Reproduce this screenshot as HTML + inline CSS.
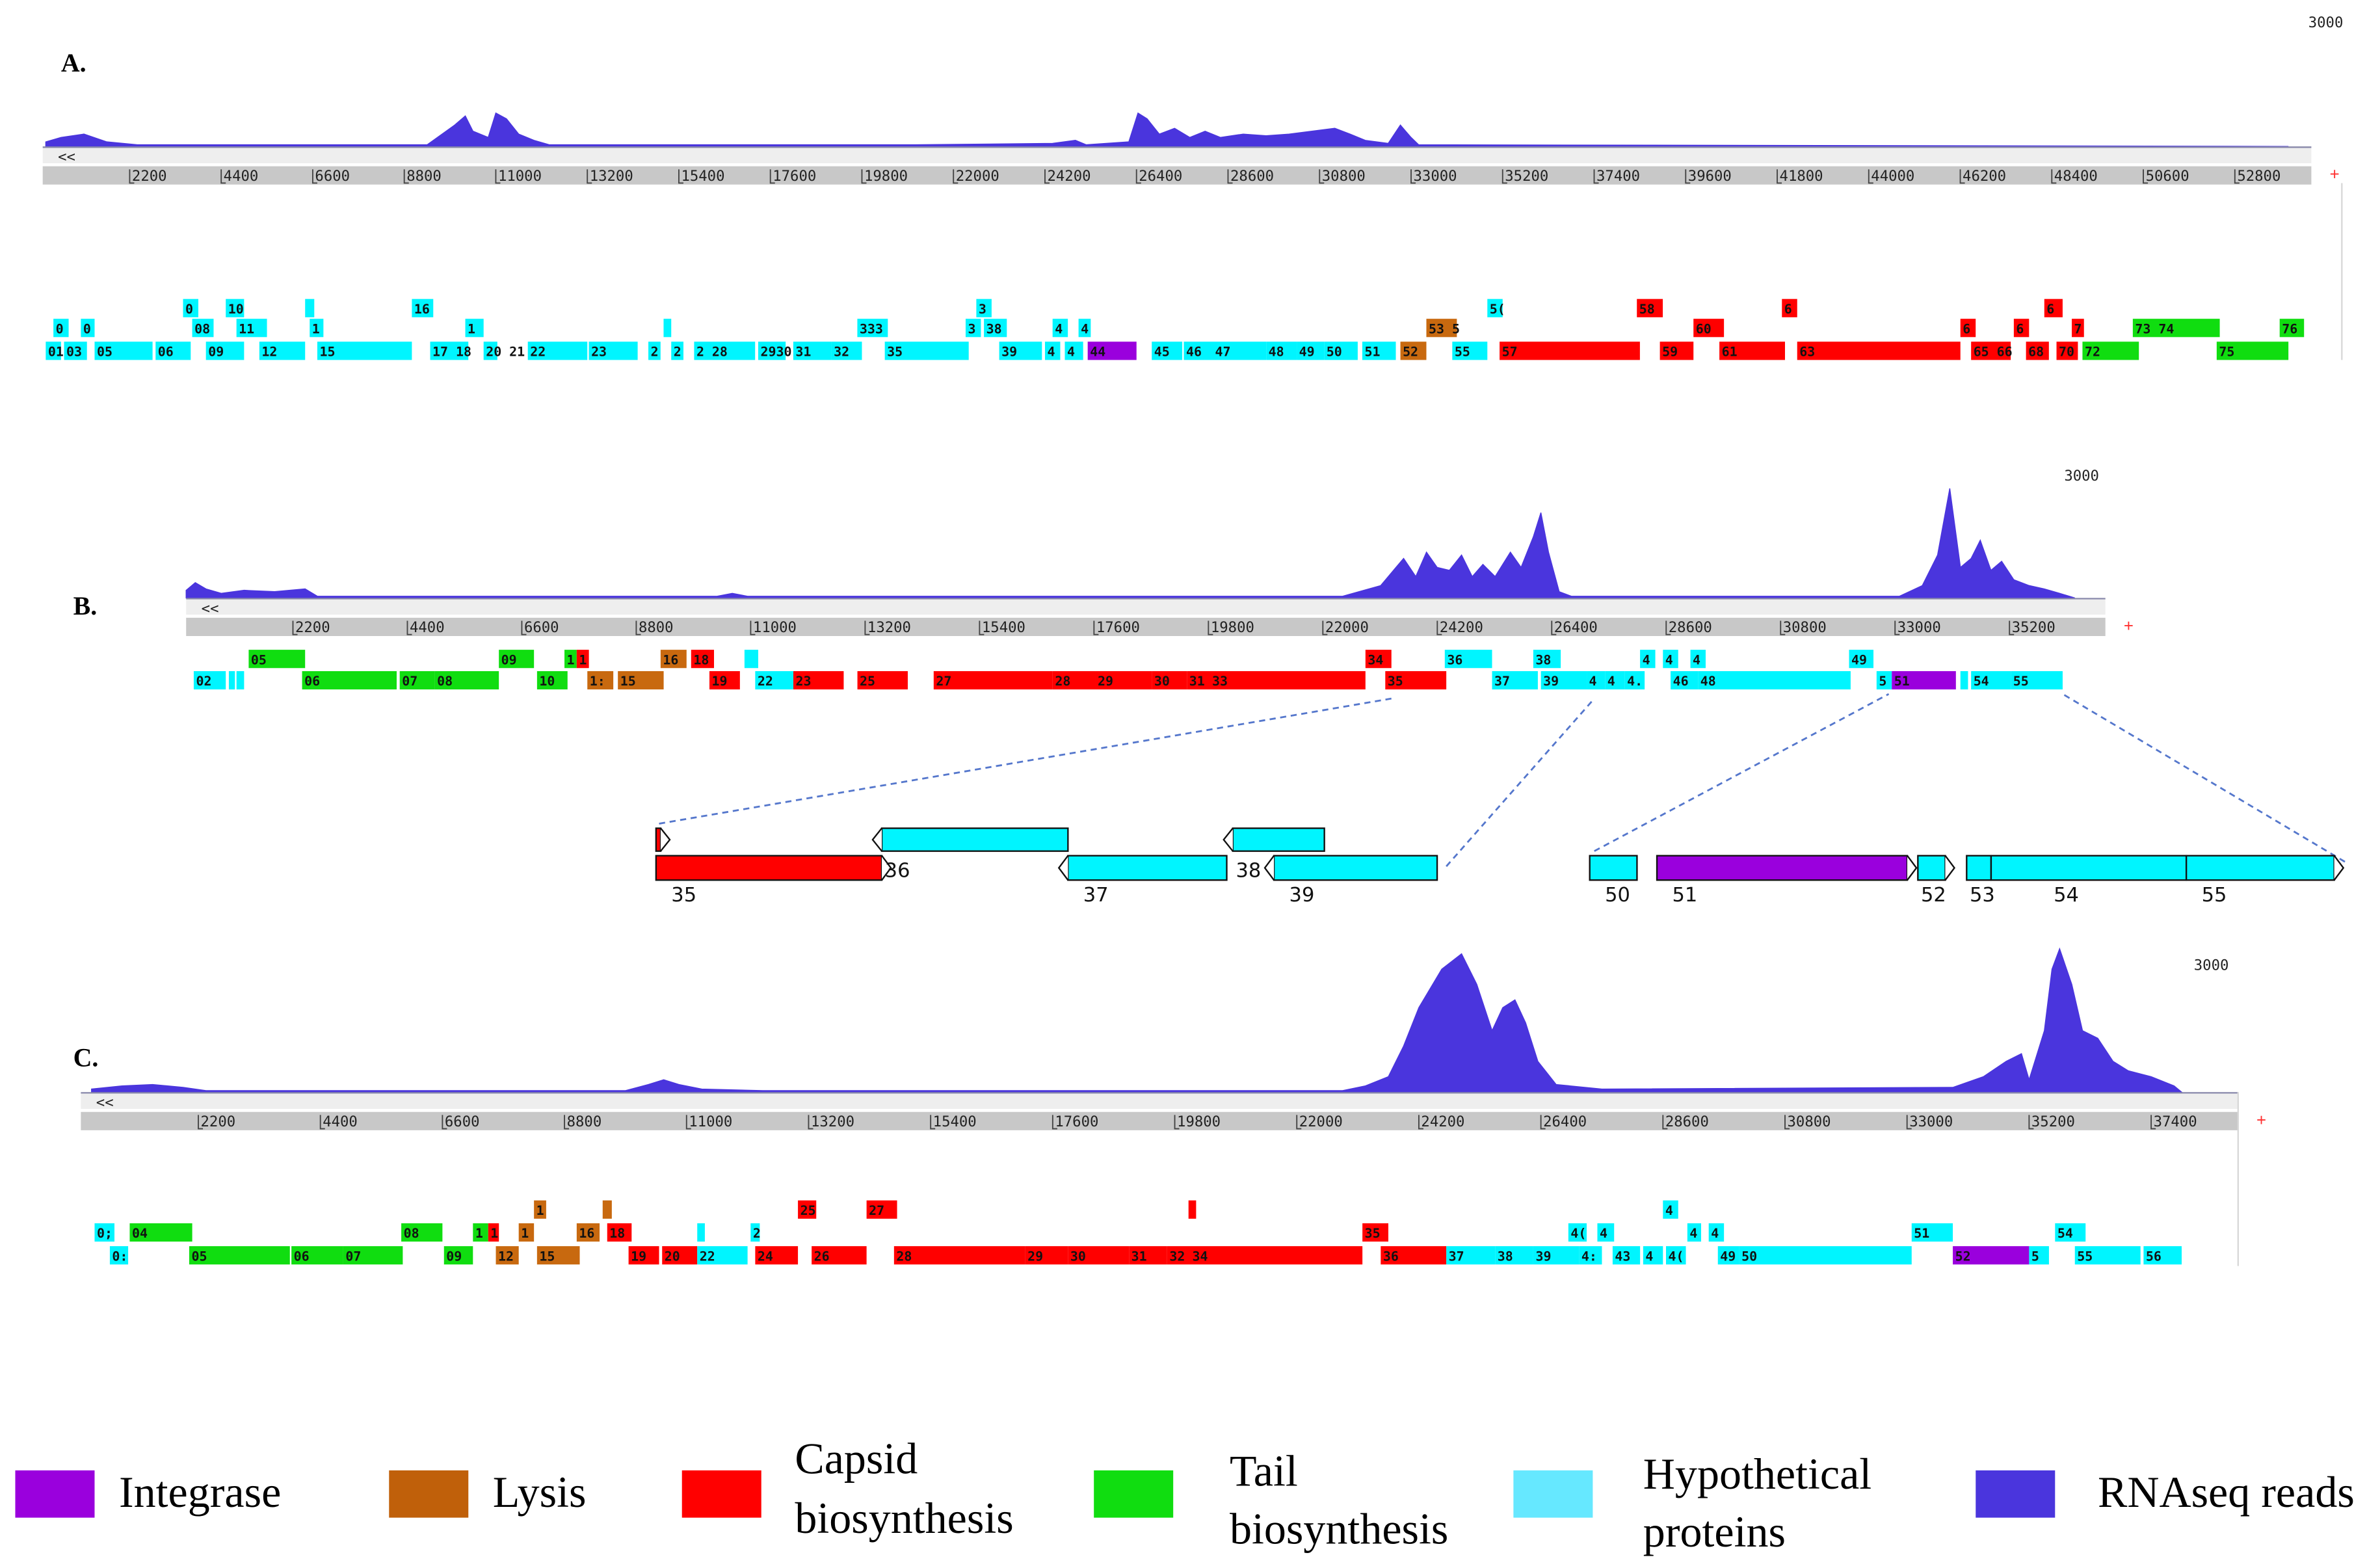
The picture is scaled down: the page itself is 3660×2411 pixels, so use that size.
<!DOCTYPE html>
<html><head><meta charset="utf-8"><title>Phage genome RNAseq coverage</title>
<style>
html,body{margin:0;padding:0;background:#fff;}
svg{display:block;}
.gl{font-family:"DejaVu Sans Mono","Liberation Mono",monospace;font-size:8.5px;font-weight:bold;fill:#111;}
.rl{font-family:"DejaVu Sans Mono","Liberation Mono",monospace;font-size:9.5px;fill:#222;}
.pl{font-family:"Liberation Serif",serif;font-size:17px;font-weight:bold;fill:#000;}
.lg{font-family:"Liberation Serif",serif;font-size:29px;fill:#000;}
.zl{font-family:"DejaVu Sans","Liberation Sans",sans-serif;font-size:13px;fill:#111;}
</style></head>
<body>
<svg id="fig" width="3660" height="2411" viewBox="0 0 1560 1028" preserveAspectRatio="none" xmlns="http://www.w3.org/2000/svg">
<rect x="0" y="0" width="1560" height="1028" fill="#fff"/>
</svg>
<script>
// ---------- DATA ----------
const aTicks=[2200,4400,6600,8800,11000,13200,15400,17600,19800,22000,24200,26400,28600,30800,33000,35200,37400,39600,41800,44000,46200,48400,50600,52800];
const bTicks=[2200,4400,6600,8800,11000,13200,15400,17600,19800,22000,24200,26400,28600,30800,33000,35200];
const cTicks=[2200,4400,6600,8800,11000,13200,15400,17600,19800,22000,24200,26400,28600,30800,33000,35200,37400];

const aCovPos=[183,550,1100,1650,2383,9350,10010,10267,10450,10817,11000,11257,11550,11917,12283,21083,24383,24933,25190,26217,26437,26657,26950,27317,27683,28050,28417,28967,29517,30067,30617,31167,31533,31900,32450,32743,33000,33183,54087];
const aCovReads=[110,220,300,110,40,40,520,740,370,220,810,670,300,150,40,40,75,150,40,110,810,670,300,440,220,370,220,300,260,300,370,440,300,150,75,520,220,40,0];

const bCovPos=[147,323,528,821,1261,1848,2434,2669,5367,10353,10647,10940,22379,23112,23405,23552,23786,23992,24197,24432,24667,24872,25077,25312,25605,25810,26045,26192,26339,26544,26779,33084,33524,33817,34051,34257,34462,34638,34843,35049,35284,35577,35870,36163,36457];
const bCovReads=[185,370,220,110,185,150,220,40,40,40,110,40,40,300,740,960,520,1110,740,670,1040,520,815,520,1110,740,1480,2070,1110,150,40,40,300,1040,2660,740,960,1400,670,890,440,300,220,110,0];

const cCovPos=[275,825,1375,1925,2338,9900,10313,10588,10863,11275,12375,22825,23238,23650,23925,24200,24613,24970,25245,25520,25713,25933,26125,26345,26675,27500,33825,34375,34788,35063,35200,35475,35613,35750,35970,36163,36438,36713,36988,37400,37813,37950];
const cCovReads=[70,145,180,110,36,36,180,290,180,70,36,36,145,360,1080,1980,2880,3240,2520,1440,1980,2160,1620,720,180,70,110,360,720,900,290,1440,2880,3380,2520,1440,1260,720,500,360,145,0];

const aRow0=[[3483,3850,'h','0'],[4510,4950,'h','10'],[6417,6637,'h',''],[8983,9497,'h','16'],[22550,22917,'h','3'],[34833,35200,'h','5('],[38427,39050,'c','58'],[41913,42280,'c','6'],[48220,48660,'c','6']];
const aRow1=[[367,733,'h','0'],[1027,1357,'h','0'],[3703,4217,'h','08'],[4767,5500,'h','11'],[6527,6857,'h','1'],[10267,10707,'h','1'],[15033,15217,'h',''],[19690,20423,'h','333'],[22293,22660,'h','3'],[22733,23283,'h','38'],[24383,24750,'h','4'],[25007,25300,'h','4'],[33367,34100,'l','53 5'],[39787,40520,'c','60'],[46203,46570,'c','6'],[47487,47853,'c','6'],[48880,49173,'c','7'],[50347,52437,'t','73  74'],[53877,54463,'t','76']];
const aRow2=[[183,550,'h','01'],[623,1173,'h','03'],[1357,2750,'h','05'],[2823,3667,'h','06'],[4033,4950,'h','09'],[5317,6417,'h','12'],[6710,8983,'h','15'],[9423,10340,'h','17 18'],[10707,11037,'h','20 21'],[11770,13200,'h','22'],[13237,14410,'h','23'],[14667,14960,'h','2'],[15217,15510,'h','2'],[15767,17233,'h','2 28'],[17307,17967,'h','2930'],[18150,19067,'h','31'],[19067,19800,'h','32'],[20350,22367,'h','35'],[23100,24127,'h','39'],[24200,24567,'h','4'],[24677,25117,'h','4'],[25227,26400,'i','44'],[26767,27500,'h','45'],[27537,28233,'h','46'],[28233,29517,'h','47'],[29517,30250,'h','48'],[30250,30910,'h','49'],[30910,31717,'h','50'],[31827,32633,'h','51'],[32743,33367,'l','52'],[33990,34833,'h','55'],[35127,38500,'c','57'],[38980,39787,'c','59'],[40410,41987,'c','61'],[42280,46203,'c','63'],[46460,47413,'c','65 66'],[47780,48330,'c','68'],[48513,49027,'c','70'],[49137,50493,'t','72'],[52363,54087,'t','75']];

const bRow0=[[1349,2434,'t','05'],[6159,6834,'t','09'],[7420,7655,'t','1'],[7655,7890,'c','1'],[9268,9767,'l','16'],[9855,10295,'c','18'],[10881,11145,'h',''],[22819,23318,'c','34'],[24344,25253,'h','36'],[26045,26573,'h','38'],[28098,28391,'h','4'],[28538,28831,'h','4'],[29066,29359,'h','4'],[32116,32585,'h','49']];
const bRow1=[[293,909,'h','02'],[968,1085,'h',''],[1115,1261,'h',''],[2376,4194,'t','06'],[4253,4927,'t','07'],[4927,6159,'t','08'],[6893,7479,'t','10'],[7860,8359,'l','1:'],[8447,9327,'l','15'],[10207,10793,'c','19'],[11087,11820,'h','22'],[11820,12788,'c','23'],[13052,14020,'c','25'],[14518,16806,'c','27'],[16806,17627,'c','28'],[17627,18713,'c','29'],[18713,19387,'c','30'],[19387,19827,'c','31'],[19827,22819,'c','33'],[23200,24373,'c','35'],[25253,26133,'h','37'],[26192,27072,'h','39'],[27072,27424,'h','4'],[27424,27805,'h','4'],[27805,28186,'h','4.'],[28685,29213,'h','46'],[29213,32146,'h','48'],[32645,32938,'h','5'],[32938,34170,'i','51'],[34257,34403,'h',''],[34462,35225,'h','54'],[35225,36222,'h','55']];

const cRow0=[[8250,8470,'l','1'],[9488,9653,'l',''],[13008,13338,'c','25'],[14245,14795,'c','27'],[20048,20185,'c',''],[28600,28875,'h','4']];
const cRow1=[[330,688,'h','0;'],[963,2090,'t','04'],[5858,6600,'t','08'],[7150,7425,'t','1'],[7425,7618,'c','1'],[7975,8250,'l','1'],[9020,9433,'l','16'],[9570,10010,'c','18'],[11193,11330,'h',''],[12155,12320,'h','2'],[23183,23650,'c','35'],[26895,27225,'h','4('],[27418,27720,'h','4'],[29040,29288,'h','4'],[29425,29700,'h','4'],[33083,33825,'h','51'],[35668,36218,'h','54']];
const cRow2=[[605,935,'h','0:'],[2035,3850,'t','05'],[3878,4813,'t','06'],[4813,5885,'t','07'],[6628,7150,'t','09'],[7563,7975,'l','12'],[8305,9075,'l','15'],[9955,10505,'c','19'],[10560,11193,'c','20'],[11193,12100,'h','22'],[12238,13008,'c','24'],[13255,14245,'c','26'],[14740,17105,'c','28'],[17105,17875,'c','29'],[17875,18975,'c','30'],[18975,19663,'c','31'],[19663,20075,'c','32'],[20075,23183,'c','34'],[23513,24695,'c','36'],[24695,25575,'h','37'],[25575,26263,'h','38'],[26263,27088,'h','39'],[27088,27500,'h','4:'],[27693,28188,'h','43'],[28243,28600,'h','4'],[28655,29013,'h','4('],[29590,29975,'h','49'],[29975,33083,'h','50'],[33825,35200,'i','52'],[35200,35558,'h','5'],[36025,37208,'h','55'],[37263,37950,'h','56']];

// zoomed detail: [start, end, type, label, row(0 top/1 bottom), strand(1 fwd,-1 rev)]
const zoomLeft=[[23200,23223,'c','',0,1],[23200,24319,'c','35',1,1],[24319,25242,'h','36',0,-1],[25242,26029,'h','37',1,-1],[26059,26513,'h','38',0,-1],[26263,27072,'h','39',1,-1]];
const zoomRight=[[32145,32404,'h','50',1,0],[32513,33884,'i','51',1,1],[33942,34092,'h','52',1,1],[34209,34343,'h','53',1,1],[34343,35412,'h','54',1,1],[35412,36222,'h','55',1,1]];

const legendLabels=[['Integrase'],['Lysis'],['Capsid','biosynthesis'],['Tail','biosynthesis'],['Hypothetical','proteins'],['RNAseq reads']];

// ---------- RENDER ----------
const NS='http://www.w3.org/2000/svg';
const svg=document.getElementById('fig');
const COL={h:'#00f5ff',c:'#ff0000',t:'#10dd10',l:'#c8690f',i:'#9a00dd'};
const COV='#4a35dd';
function mk(tag,attrs,parent){const e=document.createElementNS(NS,tag);for(const k in attrs)e.setAttribute(k,attrs[k]);(parent||svg).appendChild(e);return e;}

function drawPanel(p,ticks,covPos,covReads,rows,letter){
  const g=mk('g',{});
  
  
  const x=bp=>p.x0+bp*p.k;
  const y=r=>p.base-r*p.ry;
  let d='M'+x(covPos[0])+','+p.base;
  for(let i=0;i<covPos.length;i++){d+=' L'+x(covPos[i]).toFixed(1)+','+Math.max(y(covReads[i]),p.base-p.maxH).toFixed(1);}
  d+=' L'+x(covPos[covPos.length-1])+','+p.base+' Z';
  const cov=mk('path',{d:d,fill:COV,stroke:COV,'stroke-width':0.6},g);
  
  
  mk('line',{x1:p.rx0,x2:p.rx1,y1:p.base+0.5,y2:p.base+0.5,stroke:'#8888aa','stroke-width':1},g);
  const sl=mk('text',{x:p.sx,y:p.sy,class:'rl','font-size':9},g);sl.textContent='3000';
  
  
  mk('rect',{x:p.rx0,y:p.base+1,width:p.rx1-p.rx0,height:10,fill:'#eeeeee'},g);
  const nav=mk('text',{x:p.rx0+10,y:p.base+10,class:'rl','font-size':9},g);nav.textContent='<<';
  
  
  const ruler=mk('rect',{x:p.rx0,y:p.base+13,width:p.rx1-p.rx0,height:12,fill:'#c8c8c8'},g);
  
  
  ticks.forEach(t=>{
    const tx=x(t);
    mk('path',{d:`M${tx},${p.base+15}V${p.base+24}H${tx+3}`,stroke:'#444',fill:'none','stroke-width':0.8},g);
    const tl=mk('text',{x:tx+1.5,y:p.base+22.5,class:'rl'},g);tl.textContent=t;
    
    
  });
  const pl=mk('text',{x:p.rx1+12,y:p.base+22,fill:'#ff3030','font-size':11,'font-family':'Liberation Sans'},g);pl.textContent='+';
  
  
  if(p.vline) mk('line',{x1:p.vline[0],x2:p.vline[0],y1:p.vline[1],y2:p.vline[2],stroke:'#d8d8d8','stroke-width':1},g);
  rows.forEach((row,ri)=>{
    row.forEach(gn=>{
      const gx=x(gn[0]),gw=Math.max(x(gn[1])-gx,1.5);
      const r=mk('rect',{x:gx,y:p.rowY[ri],width:gw,height:p.rowH,fill:COL[gn[2]]},g);
      
      
      if(gn[3]){const t=mk('text',{x:gx+1.5,y:p.rowY[ri]+p.rowH-2.5,class:'gl'},g);t.textContent=gn[3];}
    });
  });
  const lbl=mk('text',{x:p.lx,y:p.ly,class:'pl'},g);lbl.textContent=letter+'.';
  
  
}

drawPanel({x0:25,k:1/36.67,base:96,ry:81/3000,maxH:90,rx0:28,rx1:1515,sx:1513,sy:18,rowY:[196,209,224],rowH:12,lx:40,ly:47,vline:[1535,120,236]},aTicks,aCovPos,aCovReads,[aRow0,aRow1,aRow2],'A');
drawPanel({x0:117,k:1/29.33,base:392,ry:81/3000,maxH:90,rx0:122,rx1:1380,sx:1353,sy:315,rowY:[426,440],rowH:12,lx:48,ly:403,vline:null},bTicks,bCovPos,bCovReads,[bRow0,bRow1],'B');
drawPanel({x0:50,k:1/27.5,base:716,ry:84/3000,maxH:94,rx0:53,rx1:1467,sx:1438,sy:636,rowY:[787,802,817],rowH:12,lx:48,ly:699,vline:[1467,716,830]},cTicks,cCovPos,cCovReads,[cRow0,cRow1,cRow2],'C');

// zoom detail
(function(){
  const g=mk('g',{});
  
  
  const lines=[[432,540,912,458],[948,568,1045,458],[1045,558,1238,455],[1537,565,1352,455]];
  lines.forEach(l=>{const e=mk('line',{x1:l[0],y1:l[1],x2:l[2],y2:l[3],stroke:'#5577cc','stroke-width':1.2,'stroke-dasharray':'4,3'},g);
    
    });
  function drawZ(arr,x0,bp0,k){
    arr.forEach(gn=>{
      const gx=x0+(gn[0]-bp0)*k, gx2=x0+(gn[1]-bp0)*k;
      const yy=gn[4]===0?543:561, h=gn[4]===0?15:16;
      const r=mk('rect',{x:gx,y:yy,width:Math.max(gx2-gx,2),height:h,fill:COL[gn[2]],stroke:'#111','stroke-width':1},g);
      
      
      if(gn[5]===1) mk('path',{d:`M${gx2},${yy}L${gx2+6},${yy+h/2}L${gx2},${yy+h}`,fill:'#fff',stroke:'#111','stroke-width':1},g);
      if(gn[5]===-1) mk('path',{d:`M${gx},${yy}L${gx-6},${yy+h/2}L${gx},${yy+h}`,fill:'#fff',stroke:'#111','stroke-width':1},g);
      if(gn[3]){
        const w=gx2-gx;
        let tx=gx+(w>120?(gn[2]==='h'?41:10):(w>25?10:2)), ty=yy+h+14;
        if(gn[4]===0){tx=gx+2;ty=yy+h+17;}
        const t=mk('text',{x:tx,y:ty,class:'zl'},g);t.textContent=gn[3];
      }
    });
  }
  drawZ(zoomLeft,430,23200,512/3872);
  drawZ(zoomRight,1042,32145,488/4077);
})();

// legend
(function(){
  const g=mk('g',{});
  
  
  const cols=[COL.i,'#c0600a','#ff0000','#10dd10','#66e8ff',COV];
  const sx=[10,255,447,717,992,1295], tx=[78,323,521,806,1077,1375];
  legendLabels.forEach((lab,i)=>{
    const r=mk('rect',{x:sx[i],y:964,width:52,height:31,fill:cols[i]},g);
    
    
    if(lab.length===1){const t=mk('text',{x:tx[i],y:988,class:'lg'},g);t.textContent=lab[0];}
    else{const off=(i===2)?[966,1005]:(i===3?[974,1012]:[976,1014]);
      lab.forEach((s,j)=>{const t=mk('text',{x:tx[i],y:off[j],class:'lg'},g);t.textContent=s;});}
  });
})();
</script>
</body></html>
